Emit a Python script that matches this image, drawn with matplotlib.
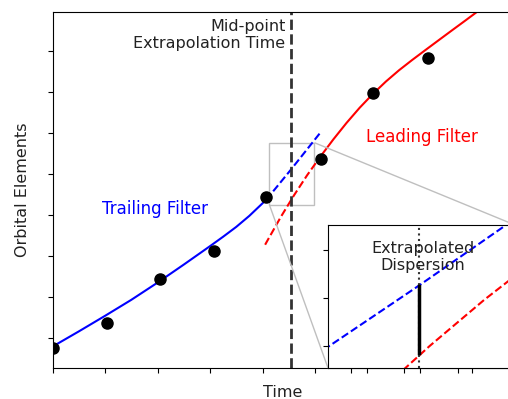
import matplotlib
matplotlib.use("Agg")
import matplotlib.pyplot as plt
from mpl_toolkits.axes_grid1.inset_locator import mark_inset

obs_t = [0.0, 1.03, 2.04, 3.07, 4.07, 5.12, 6.11, 7.15]
obs_y = [0.75, 1.37, 2.43, 3.12, 4.43, 5.37, 6.97, 7.82]

# trailing filter fit (solid) and its forward extrapolation (dashed)
trail_t = [0.0, 0.5, 1.0, 1.5, 2.0, 2.5, 3.0, 3.25, 3.5, 3.75, 4.07]
trail_y = [0.79, 1.16, 1.54, 1.93, 2.35, 2.79, 3.24, 3.47, 3.71, 3.98, 4.37]
trail_ext_t = [4.07, 4.55, 5.09]
trail_ext_y = [4.37, 5.12, 5.99]

# leading filter fit (solid) and its backward extrapolation (dashed)
lead_t = [5.1, 5.35, 5.6, 5.85, 6.1, 6.35, 6.6, 6.85, 7.1, 7.35, 7.6, 7.85, 8.1]
lead_y = [5.42, 5.845, 6.245, 6.615, 6.95, 7.255, 7.53, 7.78, 8.02, 8.258, 8.495, 8.73, 8.968]
lead_ext_t = [4.05, 4.1, 4.35, 4.6, 4.85, 5.1]
lead_ext_y = [3.275, 3.39, 3.955, 4.48, 4.97, 5.42]

t_mid = 4.55
disp_lo, disp_hi = 4.40, 5.12

W, H = 508, 399
fig = plt.figure(figsize=(W / 100, H / 100), dpi=100)
ax = fig.add_axes([52.5 / W, 31 / H, 459.5 / W, 356.5 / H])

ax.plot(trail_t, trail_y, color="blue", lw=1.5)
ax.plot(trail_ext_t, trail_ext_y, color="blue", lw=1.5, ls="--")
ax.plot(lead_t, lead_y, color="red", lw=1.5)
ax.plot(lead_ext_t, lead_ext_y, color="red", lw=1.5, ls="--")
ax.plot(obs_t, obs_y, "o", color="black", ms=8, zorder=5)
ax.axvline(t_mid, color="#333333", lw=2, ls="--")

ax.text(t_mid - 0.11, 8.78, "Mid-point\nExtrapolation Time", ha="right", va="top",
        fontsize=11.5, color="#222222", multialignment="right")
ax.text(1.95, 4.15, "Trailing Filter", color="blue", fontsize=12, ha="center", va="center")
ax.text(7.04, 5.91, "Leading Filter", color="red", fontsize=12, ha="center", va="center")

ax.set_xlim(0, 459.5 / 52.5)
ax.set_ylim(1 - 30 / 41, 1 + 326.5 / 41)
ax.set_xticks(range(0, 9))
ax.set_yticks(range(1, 9))
ax.set_xticklabels([])
ax.set_yticklabels([])
ax.set_xlabel("Time", fontsize=11.5, color="#222222", labelpad=5)
ax.set_ylabel("Orbital Elements", fontsize=11.5, color="#222222", labelpad=9)

# zoomed inset around the mid-point
axins = fig.add_axes([328 / W, 31 / H, 187 / W, 143 / H])
axins.plot(trail_ext_t, trail_ext_y, color="blue", lw=1.5, ls="--")
axins.plot(lead_ext_t, lead_ext_y, color="red", lw=1.5, ls="--")
axins.axvline(t_mid, color="#333333", lw=1.5, ls=":")
axins.plot([t_mid, t_mid], [disp_lo, disp_hi], color="black", lw=2.5)
axins.text(4.569, 5.42, "Extrapolated\nDispersion", ha="center", va="center",
           fontsize=11.5, color="#222222", multialignment="center")
axins.set_xlim(4.133, 4.990)
axins.set_ylim(4.244, 5.763)
axins.set_xticks([4.239, 4.482, 4.729, 4.974])
axins.set_yticks([4.477, 4.985, 5.493])
axins.set_xticklabels([])
axins.set_yticklabels([])
mark_inset(ax, axins, loc1=1, loc2=3, fc="none", ec="0.75", lw=1)

fig.savefig("out.png", dpi=100)
